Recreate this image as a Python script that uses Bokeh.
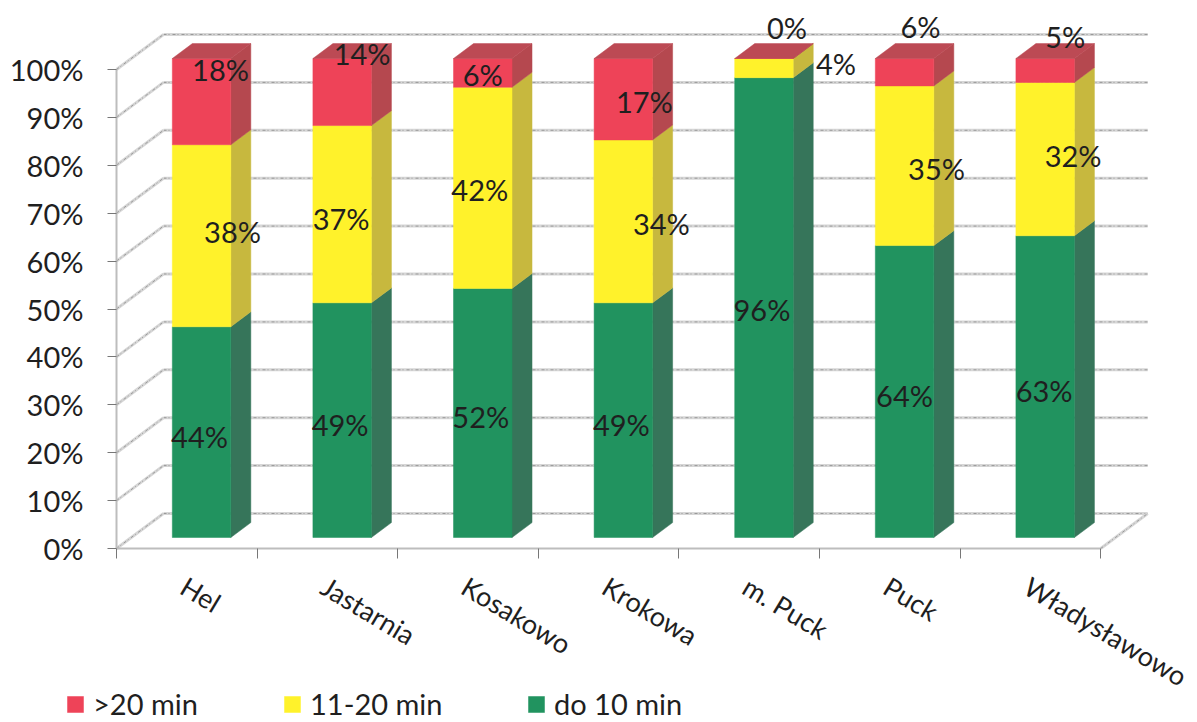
from bokeh.plotting import figure
from bokeh.embed import file_html
from bokeh.resources import INLINE
from bokeh.models import Range1d, LinearAxis, FixedTicker, Legend, LegendItem, ColumnDataSource
from bokeh.core.properties import value

categories = ["Hel", "Jastarnia", "Kosakowo", "Krokowa", "m. Puck", "Puck", "Władysławowo"]
do_10 = [44, 49, 52, 49, 96, 64, 63]
od_11_20 = [38, 37, 42, 34, 4, 35, 32]
over_20 = [18, 14, 6, 17, 0, 6, 5]
y_ticks = [0, 10, 20, 30, 40, 50, 60, 70, 80, 90, 100]

# per-label pixel nudges, as placed in the original (series order: green, yellow, red)
nudge_x = {"g": [-2, -2, -2, -2, -2, 0, -1], "y": [31, -1, -3, 38, 72, 32, 28], "r": [19, 20, 0, 21, 23, 16, 20]}
nudge_y = {"g": [4, 4, 4, 4, 2, 4, 4], "y": [-4, 4, 2, 2.5, -5, 3, -4], "r": [-32, -39, 2, 2, -31, -46, -34]}

FONT = "Lato"
FS = "29px"
TXT = "#1f1f1f"
PX_X, PX_Y = 140.6, 4.79        # pixels per category / per percent
X0, Y0 = 116, 548               # picture pixel of the origin
WALL_DX, WALL_DY = 47 / PX_X, 35 / PX_Y
W, H = 1197, 722
T1, T2 = 0.314, 0.74            # depth of the bars' front and rear
HALF = 0.208

p = figure(width=W, height=H, output_backend="svg", toolbar_location=None, min_border=0,
           x_axis_type=None, y_axis_type=None,
           x_range=Range1d(-X0 / PX_X, (W - X0) / PX_X),
           y_range=Range1d((Y0 - H) / PX_Y, Y0 / PX_Y))
p.grid.visible = False
p.outline_line_color = None


def noisy(xs, ys):
    p.multi_line(xs, ys, line_color="#d6d6d6", line_width=3)
    p.multi_line(xs, ys, line_color="#999999", line_width=1, line_dash="3 2 1 3")


n = len(categories)
# back wall grid and left wall diagonals
noisy([[WALL_DX, n + WALL_DX] for _ in y_ticks], [[v + WALL_DY, v + WALL_DY] for v in y_ticks])
noisy([[0, WALL_DX] for _ in y_ticks], [[v, v + WALL_DY] for v in y_ticks])
noisy([[n, n + WALL_DX]], [[0, WALL_DY]])

yax = LinearAxis(ticker=FixedTicker(ticks=y_ticks), fixed_location=0, bounds=(0, 100))
yax.major_label_overrides = {v: f"{v}%" for v in y_ticks}
yax.major_label_text_font = FONT
yax.major_label_text_font_size = FS
yax.major_label_text_color = TXT
yax.major_label_standoff = 24
yax.major_tick_in = 0
yax.major_tick_out = 9
yax.minor_tick_line_color = None
yax.axis_line_color = "#bdbdbd"
yax.axis_line_width = 2
yax.major_tick_line_color = "#777777"
p.add_layout(yax, "left")

xax = LinearAxis(ticker=FixedTicker(ticks=list(range(n + 1))), fixed_location=0, bounds=(0, n))
xax.major_label_overrides = {i: "" for i in range(n + 1)}
xax.major_tick_in = 0
xax.major_tick_out = 10
xax.minor_tick_line_color = None
xax.axis_line_color = "#bdbdbd"
xax.axis_line_width = 2
xax.major_tick_line_color = "#777777"
p.add_layout(xax, "below")

totals = [a + b + c for a, b, c in zip(do_10, od_11_20, over_20)]
shares = {
    "g": [a / t * 100 for a, t in zip(do_10, totals)],
    "y": [a / t * 100 for a, t in zip(od_11_20, totals)],
    "r": [a / t * 100 for a, t in zip(over_20, totals)],
}
colors = {"g": ("#21935F", "#36755A"), "y": ("#FFF22B", "#C7B83E"), "r": ("#EE4358", "#B5484F")}
raw = {"g": do_10, "y": od_11_20, "r": over_20}
top_color = "#BC4A54"

xc = [i + 0.5 + T1 * WALL_DX for i in range(n)]
left = [c - HALF for c in xc]
right = [c + HALF for c in xc]
dy1 = T1 * WALL_DY
ddx = (T2 - T1) * WALL_DX
ddy = (T2 - T1) * WALL_DY

base = [0.0] * n
fronts = {}
lab_x, lab_y, lab_t, lab_dx, lab_dy = [], [], [], [], []
for key in ["g", "y", "r"]:
    top = [b + s for b, s in zip(base, shares[key])]
    front, side = colors[key]
    p.patches([[r, r + ddx, r + ddx, r] for r in right],
              [[b + dy1, b + dy1 + ddy, t + dy1 + ddy, t + dy1] for b, t in zip(base, top)],
              fill_color=side, line_color=side, line_width=0.5)
    fronts[key] = p.quad(left=left, right=right, bottom=[b + dy1 for b in base], top=[t + dy1 for t in top],
                         fill_color=front, line_color=front, line_width=0.5)
    for i in range(n):
        lab_x.append(xc[i])
        lab_y.append((base[i] + top[i]) / 2 + dy1)
        lab_t.append(f"{raw[key][i]}%")
        lab_dx.append(nudge_x[key][i])
        lab_dy.append(nudge_y[key][i])
    base = top

# top faces
p.patches([[l, r, r + ddx, l + ddx] for l, r in zip(left, right)],
          [[t + dy1, t + dy1, t + dy1 + ddy, t + dy1 + ddy] for t in base],
          fill_color=top_color, line_color=top_color, line_width=0.5)

p.text(x="x", y="y", text="t", x_offset="dx", y_offset="dy",
       source=ColumnDataSource(dict(x=lab_x, y=lab_y, t=lab_t, dx=lab_dx, dy=lab_dy)),
       text_font=value(FONT), text_font_size=value(FS), text_color=TXT,
       text_align="center", text_baseline="middle")

p.text(x=[i + 0.5 for i in range(n)], y=[0] * n, text=categories,
       x_offset=5, y_offset=21, angle=-31, angle_units="deg",
       text_font=value(FONT), text_font_size=value("27px"), text_color=TXT,
       text_align="left", text_baseline="top")

for key, label, lx in [("r", ">20 min", 65), ("y", "11-20 min", 282), ("g", "do 10 min", 526)]:
    leg = Legend(items=[LegendItem(label=label, renderers=[fronts[key]])],
                 location=(lx, 1), orientation="horizontal", padding=0, margin=0,
                 glyph_width=20, glyph_height=20, label_standoff=8, spacing=0,
                 background_fill_alpha=0, border_line_color=None,
                 label_text_font=FONT, label_text_font_size=FS, label_text_color=TXT)
    p.add_layout(leg, "center")

open("out.html", "w").write(file_html(p, INLINE))
